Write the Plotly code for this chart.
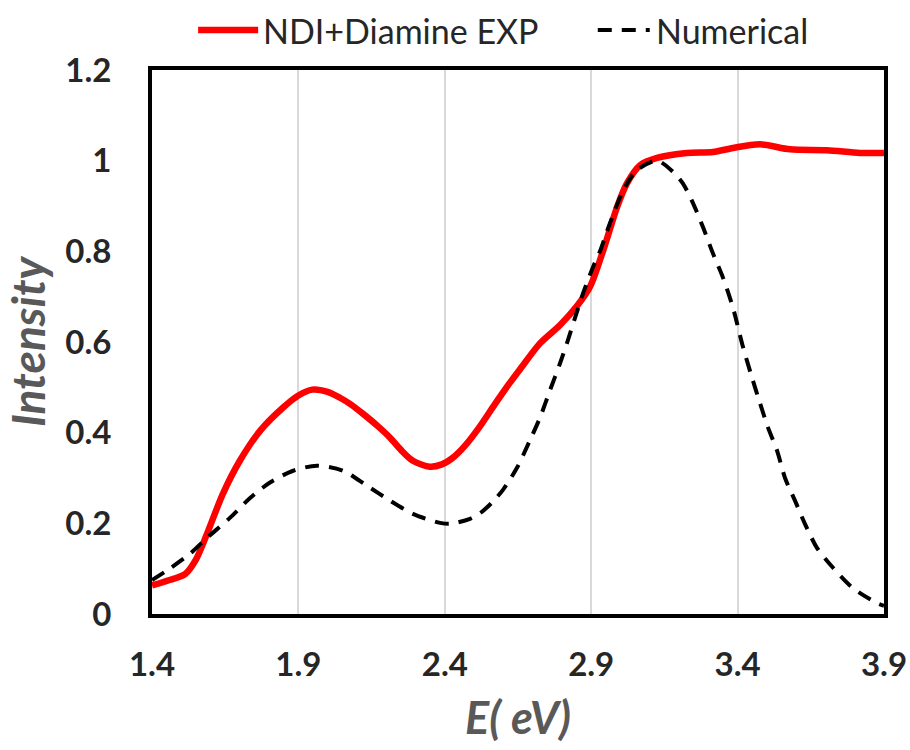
import plotly.graph_objects as go

# Experimental curve (NDI+Diamine EXP)
exp_x = [1.40, 1.46, 1.513, 1.55, 1.588, 1.642, 1.70, 1.769, 1.847, 1.90, 1.947, 2.00,
         2.042, 2.08, 2.12, 2.17, 2.213, 2.25, 2.291, 2.349, 2.39, 2.428, 2.47, 2.52,
         2.57, 2.62, 2.657, 2.725, 2.793, 2.852, 2.896, 2.94, 2.988, 3.022, 3.067, 3.125,
         3.227, 3.316, 3.384, 3.477, 3.579, 3.705, 3.818, 3.90]
exp_y = [0.063, 0.075, 0.088, 0.12, 0.177, 0.265, 0.338, 0.404, 0.455, 0.482, 0.495, 0.490,
         0.477, 0.462, 0.442, 0.415, 0.389, 0.362, 0.338, 0.325, 0.330, 0.345, 0.372, 0.414,
         0.462, 0.508, 0.540, 0.597, 0.637, 0.680, 0.722, 0.800, 0.897, 0.950, 0.990, 1.006,
         1.017, 1.019, 1.028, 1.036, 1.025, 1.023, 1.017, 1.017]

# Numerical curve
num_x = [1.40, 1.46, 1.53, 1.588, 1.666, 1.735, 1.803, 1.882, 1.963, 2.052, 2.134, 2.213,
         2.291, 2.384, 2.418, 2.486, 2.52, 2.56, 2.60, 2.647, 2.69, 2.725, 2.759, 2.793, 2.817,
         2.845, 2.872, 2.906, 2.93, 2.964, 3.01, 3.056, 3.125, 3.18, 3.213, 3.248, 3.282,
         3.316, 3.35, 3.384, 3.418, 3.449, 3.477, 3.504, 3.535, 3.562, 3.596, 3.63, 3.671,
         3.726, 3.794, 3.876, 3.90]
num_y = [0.075, 0.100, 0.133, 0.168, 0.212, 0.256, 0.290, 0.316, 0.327, 0.316, 0.283, 0.250,
         0.221, 0.201, 0.199, 0.210, 0.222, 0.245, 0.275, 0.323, 0.382, 0.433, 0.493, 0.552, 0.597,
         0.654, 0.707, 0.765, 0.800, 0.862, 0.935, 0.979, 1.000, 0.975, 0.950, 0.906, 0.853,
         0.795, 0.742, 0.676, 0.590, 0.522, 0.464, 0.411, 0.360, 0.300, 0.250, 0.199, 0.146,
         0.102, 0.057, 0.024, 0.018]

x_ticks = [1.4, 1.9, 2.4, 2.9, 3.4, 3.9]
y_ticks = [0, 0.2, 0.4, 0.6, 0.8, 1.0, 1.2]
series_names = ["NDI+Diamine EXP", "Numerical"]
series_colors = ["#ff0000", "#000000"]

FONT = "Lato"

fig = go.Figure()
fig.add_trace(go.Scatter(x=exp_x, y=exp_y, mode="lines", name=series_names[0],
                         line=dict(color=series_colors[0], width=6.5, shape="spline", smoothing=0.8)))
fig.add_trace(go.Scatter(x=num_x, y=num_y, mode="lines", name=series_names[1],
                         line=dict(color=series_colors[1], width=4, dash="14px,10px",
                                   shape="spline", smoothing=0.8)))

# Manual legend above the plot (paper coordinates)
LEG_Y = 1.0735
fig.add_shape(type="line", xref="paper", yref="paper", x0=0.063, x1=0.145, y0=LEG_Y, y1=LEG_Y,
              line=dict(color=series_colors[0], width=6.5))
fig.add_annotation(xref="paper", yref="paper", x=0.149, y=LEG_Y, xanchor="left", yanchor="middle",
                   text=series_names[0], showarrow=False,
                   font=dict(family=FONT, size=34, color="#262626"))
fig.add_shape(type="line", xref="paper", yref="paper", x0=0.609, x1=0.680, y0=LEG_Y, y1=LEG_Y,
              line=dict(color=series_colors[1], width=4, dash="14px,10px"))
fig.add_annotation(xref="paper", yref="paper", x=0.686, y=LEG_Y, xanchor="left", yanchor="middle",
                   text=series_names[1], showarrow=False,
                   font=dict(family=FONT, size=34, color="#262626"))

fig.update_layout(
    width=910, height=750,
    margin=dict(l=152, r=26, t=70, b=136, autoexpand=False),
    paper_bgcolor="white", plot_bgcolor="white",
    font=dict(family=FONT, color="#262626"),
    showlegend=False,
    xaxis=dict(range=[1.4, 3.9], tickvals=x_ticks, ticktext=[f"{v:.1f}" for v in x_ticks],
               showgrid=True, gridcolor="#d9d9d9", gridwidth=1.5,
               showline=True, linecolor="black", linewidth=4, mirror=True,
               zeroline=False, ticks="", ticklabelstandoff=18, automargin=False,
               ticklabeloverflow="allow",
               tickfont=dict(family=FONT, size=33, color="#262626", weight="bold"),
               title=dict(text="<i>E( eV)</i>", standoff=22,
                          font=dict(family=FONT, size=45, color="#595959", weight="bold"))),
    yaxis=dict(range=[0, 1.2], tickvals=y_ticks, showgrid=False,
               showline=True, linecolor="black", linewidth=4, mirror=True,
               zeroline=False, ticks="", ticklabelstandoff=30, automargin=False,
               tickfont=dict(family=FONT, size=33, color="#262626", weight="bold"),
               title=dict(text="<i>Intensity</i>", standoff=9,
                          font=dict(family=FONT, size=46, color="#595959", weight="bold"))),
)

fig.write_html("out.html",
               config={"displayModeBar": False},
               post_script="document.body.style.margin='0';document.body.style.overflow='hidden';")
